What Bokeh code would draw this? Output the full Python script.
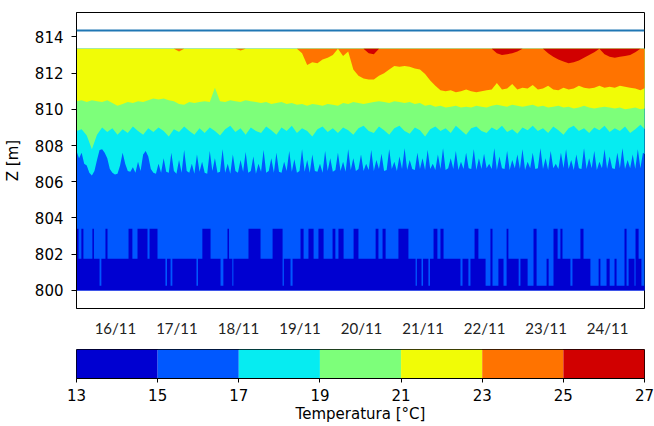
import numpy as np
from bokeh.plotting import figure
from bokeh.models import Range1d, FixedTicker, Span, ColumnDataSource
from bokeh.layouts import column
from bokeh.embed import file_html
from bokeh.resources import INLINE

# ---------------- data ----------------
levels = [13, 15, 17, 19, 21, 23, 25, 27]          # contour levels (deg C)
palette = ["#0000d1", "#0058ff", "#06ecf1", "#7dff7a", "#f1fc06", "#ff7300", "#d10000"]

z_bottom = 800.0      # deepest sensor (m)
z_top = 813.35        # shallowest sensor (m)
surface_z = 814.35    # water surface (m)

y_ticks = [800, 802, 804, 806, 808, 810, 812, 814]
day_ticks_h = [24, 48, 72, 96, 120, 144, 168, 192, 216]   # hours since 15/11 00:00
day_labels = ["16/11", "17/11", "18/11", "19/11", "20/11", "21/11", "22/11", "23/11", "24/11"]

t_start_h = 8.8       # first record (hours since 15/11 00:00)
t_end_h = 230.4       # last record
t_step_h = 2.0        # sampling interval of the 19/21/23/25 C series
t_step17_h = 1.0      # sampling interval of the 17 C series

# height (m) where temperature crosses 17 C (blue -> cyan), hourly
iso17 = [807.7, 807.3, 807.6, 807.0, 806.9, 806.5, 806.35, 806.6, 807.2, 807.75,
         807.8, 807.6, 807.3, 806.7, 806.5, 806.4, 806.45, 806.9, 807.6, 807.0,
         806.6, 806.55, 806.8, 806.5, 807.1, 806.6, 807.5, 807.7, 807.4, 806.7,
         806.5, 806.45, 807.0, 806.5, 807.3, 806.55, 806.5, 807.6, 806.6, 806.45,
         807.2, 806.5, 807.75, 806.6, 806.5, 807.0, 806.45, 807.5, 806.55, 807.1,
         806.5, 806.45, 807.7, 806.6, 807.3, 806.5, 806.55, 807.8, 806.5, 807.0,
         806.45, 807.5, 806.6, 806.5, 807.2, 806.55, 807.65, 806.5, 806.6, 807.4,
         806.45, 807.0, 806.55, 807.75, 806.5, 806.6, 807.3, 806.5, 807.6, 806.55,
         806.5, 807.1, 806.6, 807.7, 806.55, 807.25, 806.5, 806.6, 807.8, 806.55,
         807.2, 806.5, 807.5, 806.6, 806.55, 807.0, 806.5, 807.7, 806.6, 807.3,
         806.55, 806.65, 807.6, 806.6, 807.1, 806.55, 807.8, 806.65, 807.3, 806.6,
         806.7, 807.5, 806.6, 807.0, 806.65, 807.75, 806.6, 807.2, 806.7, 807.55,
         806.6, 806.65, 807.8, 806.7, 807.1, 806.6, 807.4, 806.7, 807.85, 806.65,
         807.2, 806.7, 806.65, 807.6, 806.7, 807.3, 806.65, 807.75, 806.7, 807.0,
         806.65, 807.5, 806.7, 807.85, 806.65, 806.75, 807.3, 806.7, 807.7, 806.65,
         807.1, 806.7, 807.6, 806.75, 806.7, 807.8, 806.65, 807.3, 806.7, 807.55,
         806.75, 807.0, 806.7, 807.85, 806.65, 807.4, 806.75, 806.7, 807.7, 806.65,
         807.2, 806.75, 807.5, 806.7, 807.8, 806.65, 807.1, 806.75, 807.6, 806.7,
         806.75, 807.85, 806.7, 807.3, 806.65, 807.7, 806.75, 807.0, 806.7, 807.6,
         806.75, 807.8, 806.7, 807.2, 806.65, 807.5, 806.75, 806.7, 807.85, 806.7,
         807.3, 806.75, 807.7, 806.65, 807.1, 806.75, 807.8, 806.7, 807.4, 806.75,
         806.7, 807.6, 806.75, 807.85, 806.7, 807.2, 806.75, 807.5, 806.7, 807.8,
         806.75, 807.6, 807.5]

# 19 C (cyan -> green), every 2 h
iso19 = [808.8, 808.9, 808.55, 807.8, 808.6, 809.0, 808.75, 808.95, 808.6, 808.9,
         808.7, 809.05, 808.8, 808.6, 808.95, 808.75, 809.0, 808.8, 808.5, 808.9,
         808.75, 809.05, 808.8, 808.6, 808.95, 808.7, 809.0, 808.8, 808.55, 808.9,
         809.1, 808.75, 808.95, 808.6, 809.0, 808.8, 808.7, 809.05, 808.85, 808.6,
         809.0, 808.8, 809.1, 808.7, 808.95, 808.8, 808.5, 808.9, 809.05, 808.75,
         808.95, 808.7, 809.0, 808.85, 808.6, 808.95, 809.1, 808.8, 808.7, 809.05,
         808.85, 808.6, 808.95, 809.1, 808.8, 808.65, 809.0, 808.85, 808.5, 808.9,
         809.05, 808.8, 808.95, 808.7, 809.1, 808.85, 808.6, 808.95, 809.05, 808.8,
         808.7, 809.0, 808.85, 809.1, 808.75, 808.9, 808.65, 809.0, 808.85, 809.1,
         808.8, 808.95, 808.7, 809.05, 808.85, 808.6, 808.95, 809.1, 808.8, 808.95,
         808.7, 809.0, 808.85, 809.1, 808.75, 808.95, 808.8, 809.05, 808.7, 808.9,
         809.15, 808.85]

# 21 C (green -> yellow)
iso21 = [810.45, 810.5, 810.4, 810.5, 810.45, 810.4, 810.5, 810.35, 810.2, 810.3,
         810.4, 810.35, 810.45, 810.4, 810.5, 810.6, 810.55, 810.6, 810.5, 810.45,
         810.3, 810.25, 810.4, 810.35, 810.4, 810.45, 810.4, 811.2, 810.45, 810.4,
         810.5, 810.45, 810.4, 810.5, 810.45, 810.4, 810.35, 810.4, 810.3, 810.35,
         810.4, 810.3, 810.35, 810.25, 810.3, 810.2, 810.3, 810.25, 810.2, 810.3,
         810.25, 810.2, 810.35, 810.3, 810.4, 810.35, 810.3, 810.35, 810.4, 810.45,
         810.4, 810.35, 810.45, 810.4, 810.35, 810.4, 810.3, 810.35, 810.2, 810.25,
         810.15, 810.2, 810.1, 810.15, 810.2, 810.1, 810.15, 810.1, 810.2, 810.15,
         810.1, 810.2, 810.25, 810.2, 810.15, 810.25, 810.2, 810.15, 810.2, 810.25,
         810.15, 810.2, 810.1, 810.15, 810.2, 810.1, 810.15, 810.05, 810.1, 810.2,
         810.1, 810.05, 810.1, 810.15, 810.1, 810.05, 810.1, 810.0, 810.05, 810.1,
         810.0, 810.05]

# 23 C (yellow -> orange); 813.35 = not reached
iso23 = [813.35, 813.35, 813.35, 813.35, 813.35, 813.35, 813.35, 813.35, 813.35, 813.35,
         813.35, 813.35, 813.35, 813.35, 813.35, 813.35, 813.35, 813.35, 813.35, 813.35,
         813.2, 813.35, 813.35, 813.35, 813.35, 813.35, 813.35, 813.35, 813.35, 813.35,
         813.35, 813.35, 813.25, 813.35, 813.35, 813.35, 813.35, 813.35, 813.35, 813.35,
         813.35, 813.35, 813.35, 813.35, 813.1, 812.45, 812.6, 812.55, 812.75, 812.85,
         813.0, 813.35, 812.95, 813.2, 812.2, 811.85, 811.7, 811.65, 811.65, 811.85,
         812.0, 812.2, 812.4, 812.35, 812.4, 812.35, 812.25, 812.2, 811.95, 811.6,
         811.3, 811.05, 811.0, 811.05, 810.95, 811.0, 811.1, 811.0, 810.95, 811.0,
         811.05, 811.1, 811.45, 811.1, 811.15, 811.4, 811.1, 811.2, 811.15, 811.35,
         811.1, 811.15, 811.3, 811.1, 811.05, 811.2, 811.1, 811.15, 811.3, 811.2,
         811.15, 811.2, 811.3, 811.2, 811.25, 811.2, 811.3, 811.25, 811.2, 811.15,
         811.05, 811.2]

# 25 C (orange -> red)
iso25 = [813.35, 813.35, 813.35, 813.35, 813.35, 813.35, 813.35, 813.35, 813.35, 813.35,
         813.35, 813.35, 813.35, 813.35, 813.35, 813.35, 813.35, 813.35, 813.35, 813.35,
         813.35, 813.35, 813.35, 813.35, 813.35, 813.35, 813.35, 813.35, 813.35, 813.35,
         813.35, 813.35, 813.35, 813.35, 813.35, 813.35, 813.35, 813.35, 813.35, 813.35,
         813.35, 813.35, 813.35, 813.35, 813.35, 813.35, 813.35, 813.35, 813.35, 813.35,
         813.35, 813.35, 813.35, 813.35, 813.35, 813.35, 813.35, 813.1, 813.05, 813.35,
         813.35, 813.35, 813.35, 813.35, 813.35, 813.35, 813.35, 813.35, 813.35, 813.35,
         813.35, 813.35, 813.35, 813.35, 813.35, 813.35, 813.35, 813.35, 813.35, 813.35,
         813.35, 813.35, 813.1, 813.0, 813.05, 813.1, 813.2, 813.35, 813.35, 813.35,
         813.35, 813.35, 813.1, 812.9, 812.75, 812.65, 812.55, 812.6, 812.7, 812.85,
         813.0, 813.15, 813.35, 813.05, 812.9, 812.85, 812.9, 812.95, 813.0, 813.15,
         813.35, 813.35]

# 15 C crossing near the bottom (step changes: hour, height)
iso15_steps = [
    (8.8, 803.4), (9.6, 801.75), (10.7, 803.4), (11.5, 801.75), (15.0, 803.4),
    (15.6, 801.75), (17.8, 800.25), (18.5, 801.75), (20.1, 803.4), (20.9, 801.75),
    (29.1, 803.4), (30.6, 801.75), (32.6, 803.4), (36.5, 801.75), (37.3, 803.4),
    (40.4, 801.75), (43.5, 800.25), (44.1, 801.75), (45.5, 800.25), (46.2, 801.75),
    (55.6, 800.25), (56.2, 801.75), (57.9, 803.4), (61.1, 801.75), (65.0, 800.25),
    (66.1, 801.75), (67.7, 803.4), (68.3, 801.75), (69.6, 800.25), (70.0, 801.75),
    (75.9, 803.4), (80.6, 801.75), (85.3, 803.4), (89.2, 800.25), (89.7, 801.75),
    (92.3, 800.25), (93.1, 801.75), (96.2, 803.4), (97.4, 801.75), (99.3, 803.4),
    (101.3, 801.75), (103.2, 803.4), (105.2, 801.75), (108.7, 803.4), (109.8, 801.75),
    (111.0, 803.4), (113.0, 801.75), (116.9, 803.4), (118.8, 801.75), (125.5, 803.4),
    (126.6, 801.75), (128.2, 803.4), (129.4, 801.75), (134.4, 803.4), (138.3, 801.75),
    (141.1, 800.25), (141.6, 801.75), (143.4, 800.25), (144.0, 801.75), (146.1, 800.25),
    (146.7, 801.75), (148.1, 803.4), (149.6, 801.75), (150.8, 803.4), (152.0, 801.75),
    (158.6, 800.25), (159.4, 801.75), (161.7, 800.25), (162.5, 801.75), (164.1, 803.4),
    (165.6, 801.75), (168.4, 800.25), (170.3, 803.4), (171.1, 800.25), (173.4, 801.75),
    (175.4, 800.25), (176.6, 803.4), (177.3, 801.75), (181.3, 800.25), (182.0, 801.75),
    (184.8, 800.25), (187.1, 803.4), (188.3, 800.25), (192.2, 801.75), (193.0, 800.25),
    (194.9, 803.4), (196.5, 801.75), (197.6, 803.4), (198.4, 801.75), (201.5, 800.25),
    (202.3, 801.75), (205.4, 803.4), (206.6, 801.75), (209.3, 800.25), (212.5, 801.75),
    (213.2, 800.25), (215.6, 801.75), (216.8, 800.25), (218.7, 801.75), (219.5, 800.25),
    (222.6, 803.4), (223.4, 800.25), (224.2, 801.75), (226.5, 800.25), (226.9, 803.4),
    (228.1, 801.75), (229.2, 800.25), (230.8, 800.25),
]

# ---------------- build ----------------
t = t_start_h + t_step_h * np.arange(len(iso19))
t17 = t_start_h + t_step17_h * np.arange(len(iso17))
src = ColumnDataSource(dict(t=t, iso19=iso19, iso21=iso21, iso23=iso23, iso25=iso25))
src17 = ColumnDataSource(dict(t=t17, iso17=iso17))
cold_src = ColumnDataSource(dict(t=[s[0] for s in iso15_steps],
                                 z=[s[1] for s in iso15_steps]))

TXT = "black"
FS = "15px"

p = figure(frame_width=568, frame_height=296,
           min_border_left=76, min_border_right=10, min_border_top=12, min_border_bottom=33,
           x_range=Range1d(t_start_h, t_end_h), y_range=Range1d(799.0, 815.35),
           output_backend="svg", toolbar_location=None)
p.background_fill_color = "white"
p.border_fill_color = "white"
p.outline_line_color = "black"
p.outline_line_width = 1
p.xgrid.visible = False
p.ygrid.visible = False

# filled bands, each from its lower isotherm up to the top sensor
p.varea(x="t", y1=z_bottom, y2=z_top, source=src, fill_color=palette[1])
p.varea(x="t", y1="iso17", y2=z_top, source=src17, fill_color=palette[2])
p.varea(x="t", y1="iso19", y2=z_top, source=src, fill_color=palette[3])
p.varea(x="t", y1="iso21", y2=z_top, source=src, fill_color=palette[4])
p.varea(x="t", y1="iso23", y2=z_top, source=src, fill_color=palette[5])
p.varea(x="t", y1="iso25", y2=z_top, source=src, fill_color=palette[6])
p.varea_step(x="t", y1=z_bottom, y2="z", source=cold_src, step_mode="after",
             fill_color=palette[0])

p.add_layout(Span(location=surface_z, dimension="width", line_color="#1f77b4", line_width=2))

ya = p.yaxis[0]
ya.ticker = FixedTicker(ticks=y_ticks)
ya.axis_label = "Z [m]"
ya.axis_label_text_font = "DejaVu Sans"
ya.axis_label_text_font_size = FS
ya.axis_label_text_font_style = "normal"
ya.axis_label_text_color = TXT
ya.axis_label_standoff = 10
ya.major_label_text_font = "DejaVu Sans"
ya.major_label_text_font_size = FS
ya.major_label_text_color = TXT
ya.major_label_standoff = 8
ya.major_tick_out = 5
ya.major_tick_in = 0
ya.minor_tick_out = 0
ya.minor_tick_in = 0
ya.axis_line_color = "black"
ya.major_tick_line_color = "black"

xa = p.xaxis[0]
xa.ticker = FixedTicker(ticks=day_ticks_h)
xa.major_label_overrides = {h: lab for h, lab in zip(day_ticks_h, day_labels)}
xa.major_label_text_font = "Lato"
xa.major_label_text_font_size = FS
xa.major_label_text_color = "#222222"
xa.major_label_standoff = 10
xa.major_tick_out = 0
xa.major_tick_in = 0
xa.minor_tick_out = 0
xa.minor_tick_in = 0
xa.axis_line_color = None
xa.major_tick_line_color = None

# ---------------- colour bar ----------------
cb = figure(frame_width=568, frame_height=29,
            min_border_left=76, min_border_right=10, min_border_top=8, min_border_bottom=0,
            x_range=Range1d(levels[0], levels[-1]), y_range=Range1d(0, 1),
            output_backend="svg", toolbar_location=None, y_axis_location=None)
cb.border_fill_color = "white"
cb.outline_line_color = "black"
cb.outline_line_width = 1
cb.xgrid.visible = False
cb.ygrid.visible = False
cb.quad(left=levels[:-1], right=levels[1:], bottom=0, top=1,
        fill_color=palette, line_color=None)
ca = cb.xaxis[0]
ca.ticker = FixedTicker(ticks=levels)
ca.axis_label = "Temperatura [°C]"
ca.axis_label_text_font = "DejaVu Sans"
ca.axis_label_text_font_size = FS
ca.axis_label_text_font_style = "normal"
ca.axis_label_text_color = TXT
ca.axis_label_standoff = 1
ca.major_label_text_font = "DejaVu Sans"
ca.major_label_text_font_size = FS
ca.major_label_text_color = TXT
ca.major_label_standoff = 6
ca.major_tick_out = 4
ca.major_tick_in = 0
ca.minor_tick_out = 0
ca.minor_tick_in = 0
ca.axis_line_color = "black"
ca.major_tick_line_color = "black"

layout = column(p, cb, spacing=0)
open("out.html", "w").write(file_html(layout, INLINE))
